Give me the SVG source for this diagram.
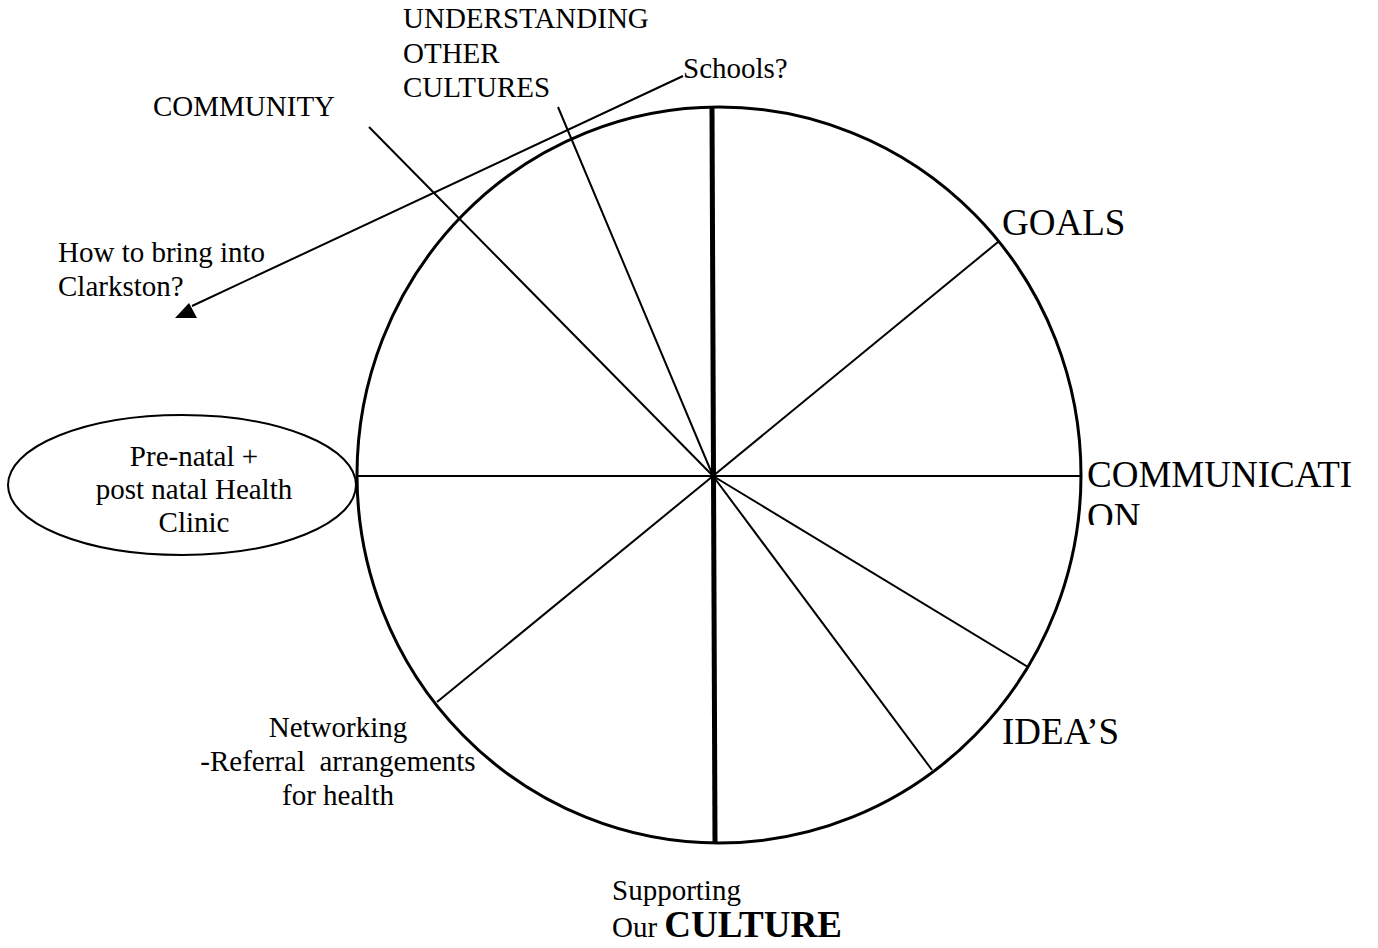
<svg xmlns="http://www.w3.org/2000/svg" width="1378" height="948" viewBox="0 0 1378 948">
<style>
text{font-family:"Liberation Serif","Times New Roman",serif;fill:#000}
.t{font-size:29px}
.b{font-size:37px}
.ln{stroke:#000;stroke-width:2;fill:none}
</style>
<defs>
<clipPath id="clipComm"><rect x="1080" y="440" width="298" height="85"/></clipPath>
</defs>
<rect width="1378" height="948" fill="#fff"/>
<g id="wheel">
<ellipse cx="719" cy="475" rx="362" ry="368" fill="none" stroke="#000" stroke-width="3"/>
</g>
<g id="connectors">
<line class="ln" x1="369" y1="127" x2="713" y2="476"/>
<line class="ln" x1="558" y1="107" x2="713" y2="476"/>
<line class="ln" x1="998" y1="242" x2="713" y2="476"/>
<line class="ln" x1="357" y1="476" x2="1081" y2="476"/>
<line class="ln" x1="1028" y1="667" x2="713" y2="476"/>
<line class="ln" x1="932" y1="770" x2="713" y2="476"/>
<line class="ln" x1="437" y1="702" x2="713" y2="476"/>
<line x1="712" y1="108" x2="715" y2="843" stroke="#000" stroke-width="5"/>
<line class="ln" x1="683" y1="76" x2="192" y2="306"/>
<polygon points="175,318 197,318 189,303" fill="#000"/>
</g>
<g id="understanding">
<text class="t" x="403" y="28">UNDERSTANDING</text>
<text class="t" x="403" y="63">OTHER</text>
<text class="t" x="403" y="97">CULTURES</text>
</g>
<g id="schools"><text class="t" x="683" y="78">Schools?</text></g>
<g id="community"><text class="t" x="153" y="116">COMMUNITY</text></g>
<g id="bring">
<text class="t" x="58" y="262">How to bring into</text>
<text class="t" x="58" y="296">Clarkston?</text>
</g>
<g id="clinic">
<ellipse cx="182" cy="485" rx="174" ry="70" fill="none" stroke="#000" stroke-width="2"/>
<text class="t" x="194" y="466" text-anchor="middle">Pre-natal +</text>
<text class="t" x="194" y="499" text-anchor="middle">post natal Health</text>
<text class="t" x="194" y="532" text-anchor="middle">Clinic</text>
</g>
<g id="networking">
<text class="t" x="338" y="737" text-anchor="middle">Networking</text>
<text class="t" x="338" y="771" text-anchor="middle" xml:space="preserve">-Referral  arrangements</text>
<text class="t" x="338" y="805" text-anchor="middle">for health</text>
</g>
<g id="goals"><text class="b" x="1002" y="235">GOALS</text></g>
<g id="communication" clip-path="url(#clipComm)">
<text class="b" x="1087" y="487">COMMUNICATI</text>
<text class="b" x="1087" y="529">ON</text>
</g>
<g id="ideas"><text class="b" x="1002" y="744">IDEA’S</text></g>
<g id="culture">
<text class="t" x="612" y="900">Supporting</text>
<text x="612" y="937"><tspan class="t">Our </tspan><tspan style="font-size:37px;font-weight:bold">CULTURE</tspan></text>
</g>
</svg>
